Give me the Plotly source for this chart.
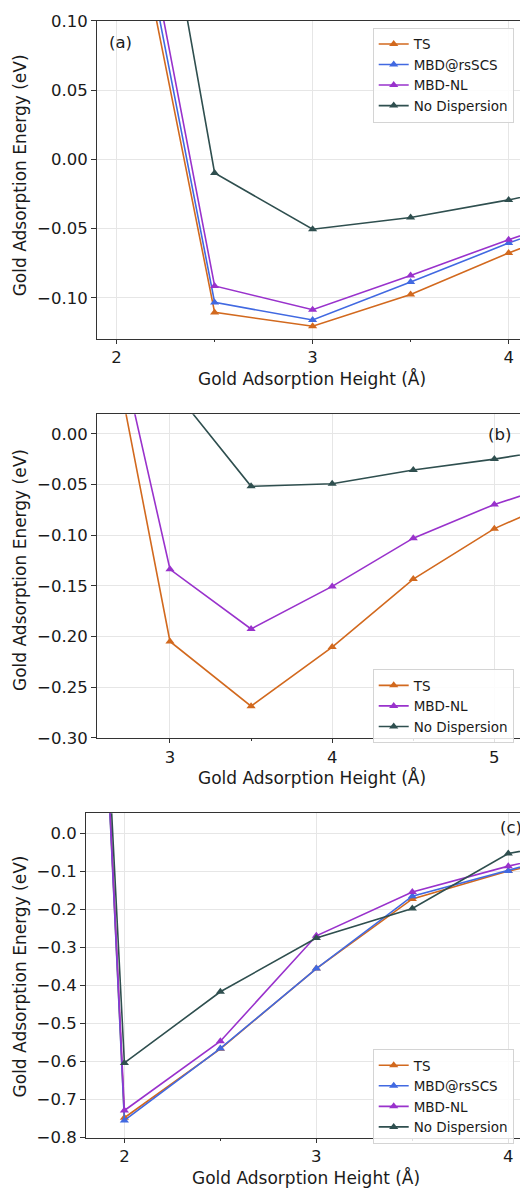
import plotly.graph_objects as go

# ---- panel (a) ----
x_a = [2.0, 2.5, 3.0, 3.5, 4.0, 4.5]
ts_a = [0.245, -0.1105, -0.1205, -0.0976, -0.0676, -0.040]
mbd_a = [0.261, -0.1033, -0.1160, -0.0886, -0.0605, -0.035]
nl_a = [0.278, -0.0914, -0.1086, -0.0838, -0.0580, -0.034]
nod_a = [0.388, -0.0098, -0.0505, -0.0420, -0.0293, -0.014]

# ---- panel (b) ----
x_b = [2.5, 3.0, 3.5, 4.0, 4.5, 5.0, 5.5]
ts_b = [0.209, -0.2048, -0.2686, -0.2103, -0.1433, -0.0935, -0.058]
nl_b = [0.220, -0.1336, -0.1925, -0.1505, -0.1029, -0.0696, -0.044]
nod_b = [0.250, 0.048, -0.0518, -0.0492, -0.0356, -0.0249, -0.012]

# ---- panel (c) ----
x_c = [1.5, 2.0, 2.5, 3.0, 3.5, 4.0, 4.5]
ts_c = [4.60, -0.748, -0.567, -0.356, -0.173, -0.100, -0.045]
mbd_c = [4.60, -0.755, -0.566, -0.356, -0.166, -0.100, -0.030]
nl_c = [4.55, -0.729, -0.547, -0.270, -0.155, -0.087, -0.030]
nod_c = [4.35, -0.604, -0.417, -0.276, -0.198, -0.054, -0.005]

COLORS = {
    "TS": "#d2691e",
    "MBD@rsSCS": "#4169e1",
    "MBD-NL": "#9932cc",
    "No Dispersion": "#2f4f4f",
}

FONT = "DejaVu Sans"
W, H = 520, 1200

fig = go.Figure()


def add(name, x, y, xa, ya, legend):
    fig.add_trace(go.Scatter(
        x=x, y=y, name=name, mode="lines+markers",
        line=dict(color=COLORS[name], width=1.6),
        marker=dict(symbol="triangle-up", size=8, color=COLORS[name]),
        xaxis=xa, yaxis=ya, legend=legend,
    ))


add("TS", x_a, ts_a, "x", "y", "legend")
add("MBD@rsSCS", x_a, mbd_a, "x", "y", "legend")
add("MBD-NL", x_a, nl_a, "x", "y", "legend")
add("No Dispersion", x_a, nod_a, "x", "y", "legend")

add("TS", x_b, ts_b, "x2", "y2", "legend2")
add("MBD-NL", x_b, nl_b, "x2", "y2", "legend2")
add("No Dispersion", x_b, nod_b, "x2", "y2", "legend2")

add("TS", x_c, ts_c, "x3", "y3", "legend3")
add("MBD@rsSCS", x_c, mbd_c, "x3", "y3", "legend3")
add("MBD-NL", x_c, nl_c, "x3", "y3", "legend3")
add("No Dispersion", x_c, nod_c, "x3", "y3", "legend3")


def px_y(p):
    return 1 - p / H


def xaxis(rng, left, anchor):
    return dict(
        domain=[left / W, 1], range=rng, anchor=anchor,
        dtick=1, tick0=0, ticks="outside", ticklen=4, tickcolor="#333",
        showline=True, linecolor="#333", linewidth=1, mirror=True,
        showgrid=True, gridcolor="#e6e6e6", gridwidth=1, zeroline=False,
        minor=dict(dtick=0.5, tick0=0, ticks="outside", ticklen=2.5,
                   tickcolor="#333", showgrid=False),
        tickfont=dict(family=FONT, size=16.5, color="#1a1a1a"),
    )


def yaxis(rng, top, bottom, dtick, fmt, anchor):
    return dict(
        domain=[px_y(bottom), px_y(top)], range=rng, anchor=anchor,
        dtick=dtick, tick0=0, tickformat=fmt, ticks="outside", ticklen=5,
        tickcolor="#333", showline=True, linecolor="#333", linewidth=1,
        showgrid=True, gridcolor="#e6e6e6", gridwidth=1, zeroline=False,
        tickfont=dict(family=FONT, size=16.5, color="#1a1a1a"),
    )


def legend(top):
    return dict(
        x=372.7 / W, y=px_y(top), xanchor="left", yanchor="top",
        bgcolor="rgba(255,255,255,0.85)", bordercolor="#d4d4d4", borderwidth=1,
        font=dict(family=FONT, size=13.5, color="#1a1a1a"),
        itemwidth=30, tracegroupgap=0,
    )


fig.update_layout(
    width=W, height=H,
    margin=dict(l=0, r=0, t=0, b=0),
    paper_bgcolor="white", plot_bgcolor="white",
    font=dict(family=FONT, size=16.5, color="#1a1a1a"),
    xaxis=xaxis([1.9, 4.058], 97, "y"),
    yaxis=yaxis([-0.1295, 0.10], 12, 335, 0.05, ".2f", "x"),
    xaxis2=xaxis([2.55, 5.158], 97, "y2"),
    yaxis2=yaxis([-0.30, 0.0194], 411.7, 740.7, 0.05, ".2f", "x2"),
    xaxis3=xaxis([1.80, 4.061], 86, "y3"),
    yaxis3=yaxis([-0.80, 0.0517], 817.3, 1146.7, 0.1, ".1f", "x3"),
    legend=legend(19),
    legend2=legend(670.7),
    legend3=legend(1056.7),
)

# panel labels and axis titles
annots = [
    ("(a)", 120, 34, 0, 16.5),
    ("(b)", 499, 432, 0, 16.5),
    ("(c)", 511, 832, 0, 16.5),
    ("Gold Adsorption Height (Å)", 312, 375, 0, 17),
    ("Gold Adsorption Height (Å)", 312, 781, 0, 17),
    ("Gold Adsorption Height (Å)", 306, 1187, 0, 17),
    ("Gold Adsorption Energy (eV)", 20, 169, -90, 17),
    ("Gold Adsorption Energy (eV)", 20, 570, -90, 17),
    ("Gold Adsorption Energy (eV)", 20, 983, -90, 17),
]
for text, ax, ay, ang, fs in annots:
    fig.add_annotation(
        text=text, x=ax / W, y=px_y(ay), xref="paper", yref="paper",
        xanchor="center", yanchor="middle", showarrow=False, textangle=ang,
        font=dict(family=FONT, size=fs, color="#1a1a1a"),
    )

fig.write_html("out.html")
